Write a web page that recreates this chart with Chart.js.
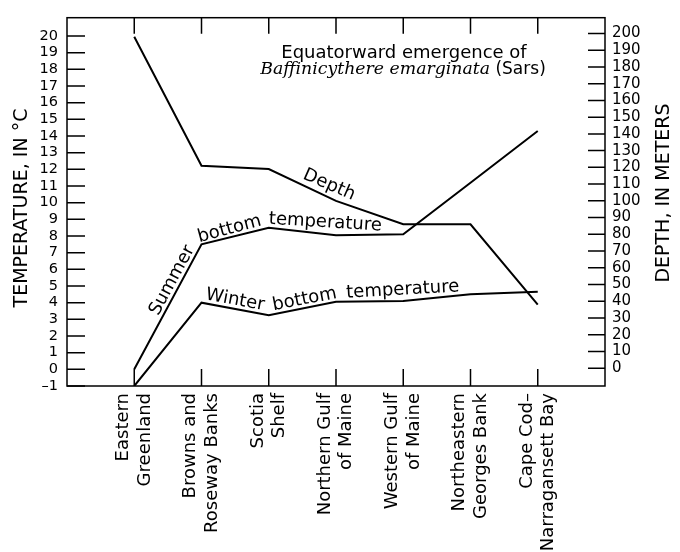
<!DOCTYPE html>
<html><head><meta charset="utf-8">
<script src="https://cdn.jsdelivr.net/npm/chart.js@4"></script>
<style>html,body{margin:0;padding:0;background:#fff}</style>
</head><body>
<canvas id="c" width="680" height="552"></canvas>
<script>
const categories = [
  ['Eastern', 'Greenland'],
  ['Browns and', 'Roseway Banks'],
  ['Scotia', 'Shelf'],
  ['Northern Gulf', 'of Maine'],
  ['Western Gulf', 'of Maine'],
  ['Northeastern', 'Georges Bank'],
  ['Cape Cod–', 'Narragansett Bay']
];
const depthMeters = [198, 121, 119, 100, 86, 86, 38];
const summerTemp = [0, 7.5, 8.5, 8.05, 8.1, 11.2, 14.3];
const winterTemp = [-1, 4.0, 3.25, 4.05, 4.1, 4.5, 4.65];
const tempTicks = [-1, 0, 1, 2, 3, 4, 5, 6, 7, 8, 9, 10, 11, 12, 13, 14, 15, 16, 17, 18, 19, 20];
const depthTicks = [0, 10, 20, 30, 40, 50, 60, 70, 80, 90, 100, 110, 120, 130, 140, 150, 160, 170, 180, 190, 200];

const FONT = 'DejaVu Sans';
const INK = '#000';
const toPts = vals => vals.map((v, i) => ({ x: i + 1, y: v }));
const lineStyle = { borderColor: INK, borderWidth: 2, pointRadius: 0, tension: 0, fill: false };

// place words along a polyline; each word drawn straight along its chord
function wordsOnPath(ctx, text, pts, start, lift, gaps) {
  const segs = []; let total = 0;
  for (let i = 0; i < pts.length - 1; i++) {
    const dx = pts[i + 1].x - pts[i].x, dy = pts[i + 1].y - pts[i].y;
    const L = Math.hypot(dx, dy);
    segs.push({ x: pts[i].x, y: pts[i].y, dx: dx / L, dy: dy / L, s: total, L });
    total += L;
  }
  const at = d => {
    let sg = segs[segs.length - 1];
    for (const s of segs) { if (d <= s.s + s.L) { sg = s; break; } }
    if (d < 0) sg = segs[0];
    const t = d - sg.s;
    return { x: sg.x + sg.dx * t, y: sg.y + sg.dy * t };
  };
  const space = ctx.measureText(' ').width;
  let d = start;
  text.split(' ').forEach((word, k) => {
    d += (gaps && gaps[k]) || 0;
    const w = ctx.measureText(word).width;
    const p0 = at(d), p1 = at(d + w);
    const ang = Math.atan2(p1.y - p0.y, p1.x - p0.x);
    const mx = (p0.x + p1.x) / 2, my = (p0.y + p1.y) / 2;
    const nx = Math.sin(ang), ny = -Math.cos(ang);
    ctx.save();
    ctx.translate(mx + nx * lift, my + ny * lift);
    ctx.rotate(ang);
    ctx.fillText(word, 0, 0);
    ctx.restore();
    d += w + space;
  });
}

const framePlugin = {
  id: 'frame',
  afterDatasetsDraw(chart) {
    const { ctx, chartArea: a, scales } = chart;
    ctx.save();
    ctx.strokeStyle = INK;
    ctx.lineWidth = 1.5;
    ctx.strokeRect(a.left, a.top, a.right - a.left, a.bottom - a.top);
    ctx.beginPath();
    scales.y.ticks.forEach(t => { const p = scales.y.getPixelForValue(t.value); ctx.moveTo(a.left, p); ctx.lineTo(a.left + 18, p); });
    scales.y2.ticks.forEach(t => { const p = scales.y2.getPixelForValue(t.value); ctx.moveTo(a.right - 17, p); ctx.lineTo(a.right, p); });
    scales.x.ticks.forEach(t => {
      const p = scales.x.getPixelForValue(t.value);
      ctx.moveTo(p, a.bottom); ctx.lineTo(p, a.bottom - 17);
      ctx.moveTo(p, a.top); ctx.lineTo(p, a.top + 16);
    });
    ctx.stroke();
    ctx.restore();
  }
};

const textPlugin = {
  id: 'texts',
  afterDraw(chart) {
    const { ctx } = chart;
    ctx.save();
    ctx.fillStyle = INK;
    // title
    ctx.textAlign = 'center'; ctx.textBaseline = 'alphabetic';
    ctx.font = '18px ' + FONT;
    ctx.fillText('Equatorward emergence of', 404, 58);
    ctx.font = 'italic 18px "DejaVu Serif"';
    const w0 = ctx.measureText('Baffinicythere emarginata').width;
    const italSize = 18 * 230 / w0;
    ctx.font = 'italic ' + italSize.toFixed(2) + 'px "DejaVu Serif"';
    const wI = ctx.measureText('Baffinicythere emarginata').width;
    ctx.font = '17px ' + FONT;
    const wS = ctx.measureText(' (Sars)').width;
    const x0 = 403 - (wI + wS) / 2;
    ctx.textAlign = 'left';
    ctx.font = 'italic ' + italSize.toFixed(2) + 'px "DejaVu Serif"';
    ctx.fillText('Baffinicythere emarginata', x0, 74);
    ctx.font = '17px ' + FONT;
    ctx.fillText(' (Sars)', x0 + wI, 74);
    // axis titles
    ctx.font = '19px ' + FONT;
    ctx.textAlign = 'center'; ctx.textBaseline = 'middle';
    ctx.save(); ctx.translate(22, 208); ctx.rotate(-Math.PI / 2); ctx.fillText('TEMPERATURE, IN °C', 0, 0); ctx.restore();
    ctx.save(); ctx.translate(664, 193); ctx.rotate(-Math.PI / 2); ctx.fillText('DEPTH, IN METERS', 0, 0); ctx.restore();
    // line labels
    ctx.font = '18px ' + FONT;
    ctx.textAlign = 'center'; ctx.textBaseline = 'alphabetic';
    const pts = i => chart.getDatasetMeta(i).data.map(e => ({ x: e.x, y: e.y }));
    wordsOnPath(ctx, 'Depth', pts(0), 247, 6);
    wordsOnPath(ctx, 'Summer bottom temperature', pts(1), 58, 4);
    wordsOnPath(ctx, 'Winter bottom temperature', pts(2), 110, 4, [0, 6, 3]);
    ctx.restore();
  }
};

new Chart(document.getElementById('c'), {
  type: 'line',
  data: {
    datasets: [
      Object.assign({ label: 'Depth', data: toPts(depthMeters), yAxisID: 'y2' }, lineStyle),
      Object.assign({ label: 'Summer bottom temperature', data: toPts(summerTemp), yAxisID: 'y' }, lineStyle),
      Object.assign({ label: 'Winter bottom temperature', data: toPts(winterTemp), yAxisID: 'y' }, lineStyle)
    ]
  },
  options: {
    responsive: false,
    animation: false,
    devicePixelRatio: 1,
    layout: { padding: { top: 12, left: 0, right: 0, bottom: 0 } },
    plugins: { legend: { display: false }, tooltip: { enabled: false } },
    scales: {
      x: {
        type: 'linear', position: 'bottom', min: 0, max: 8,
        afterBuildTicks: s => { s.ticks = categories.map((c, i) => ({ value: i + 1 })); },
        afterFit: s => { s.height = 166; },
        grid: { display: false, drawTicks: false }, border: { display: false },
        ticks: {
          autoSkip: false, minRotation: 90, maxRotation: 90, padding: 7, labelOffset: -10.8,
          color: INK, font: { family: FONT, size: 18, lineHeight: 1.2 },
          callback: v => categories[v - 1]
        }
      },
      y: {
        position: 'left', min: -1, max: 21.1,
        afterBuildTicks: s => { s.ticks = tempTicks.map(v => ({ value: v })); },
        afterFit: s => { s.width = 67; },
        grid: { display: false, drawTicks: false }, border: { display: false },
        ticks: { autoSkip: false, padding: 9, color: INK, font: { family: FONT, size: 14.5 }, callback: v => v < 0 ? '–' + Math.abs(v) : String(v) }
      },
      y2: {
        position: 'right', min: -10.6, max: 209.4,
        afterBuildTicks: s => { s.ticks = depthTicks.map(v => ({ value: v })); },
        afterFit: s => { s.width = 75; },
        grid: { display: false, drawTicks: false }, border: { display: false },
        ticks: { autoSkip: false, padding: 7, color: INK, font: { family: FONT, size: 15 }, callback: v => String(v) }
      }
    }
  },
  plugins: [framePlugin, textPlugin]
});
</script>
</body></html>
